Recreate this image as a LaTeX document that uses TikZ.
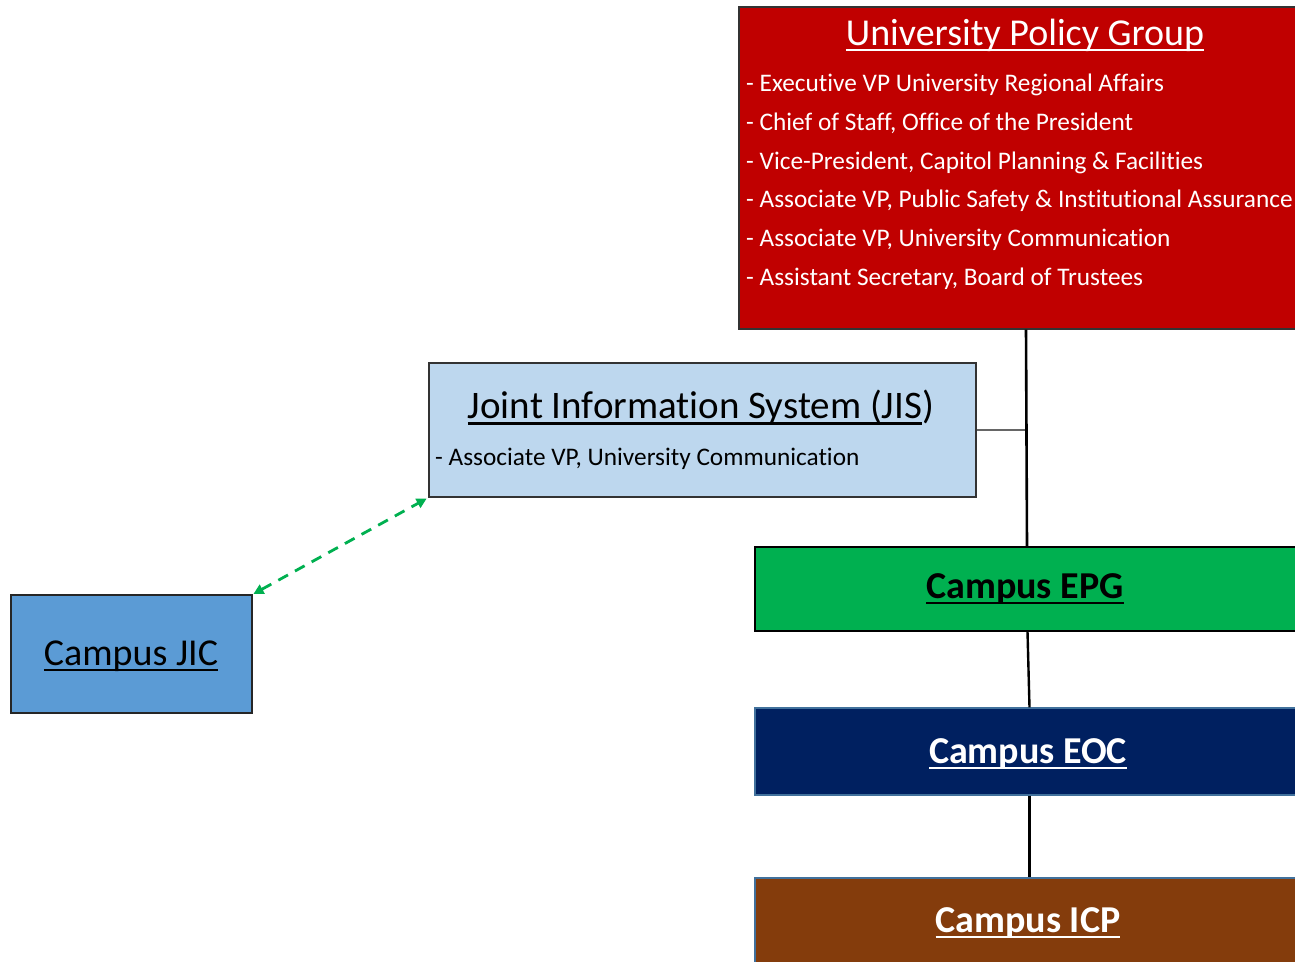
\documentclass[tikz,border=0pt]{standalone}
\usepackage{fontspec}
\setmainfont[RawFeature=-liga]{Carlito}
\usetikzlibrary{arrows.meta}
\definecolor{upgred}{HTML}{C00000}
\definecolor{jisblue}{HTML}{BDD7EE}
\definecolor{jicblue}{HTML}{5B9BD5}
\definecolor{epggreen}{HTML}{00B050}
\definecolor{eocnavy}{HTML}{002060}
\definecolor{icpbrown}{HTML}{843C0C}
\definecolor{edgeblue}{HTML}{41719C}
% underlined text with a rule set just below the baseline
\newcommand\ultext[1]{\setbox0\hbox{#1}\rlap{\rule[-0.17em]{\wd0}{0.065em}}\box0}
\newcommand\titlesize{\fontsize{38}{42}\selectfont}
\newcommand\bigtitlesize{\fontsize{39}{43}\selectfont}
\newcommand\bodysize{\fontsize{25.3}{30}\selectfont}
\begin{document}
\begin{tikzpicture}[x=1pt,y=-1pt,
  panel/.style={draw=#1, line width=1.2pt, inner sep=0pt, rectangle},
  label/.style={inner sep=0pt, anchor=base},
  item/.style={inner sep=0pt, anchor=base west, text=white, font=\bodysize},
  link/.style={draw=black, line width=2.6pt},
  peer/.style={draw=epggreen, line width=2.8pt, dash pattern=on 11pt off 8pt,
    {Triangle[length=10pt,width=10pt]}-{Triangle[length=10pt,width=10pt]}, shorten <=1pt, shorten >=2pt}]
\useasboundingbox (0,0) rectangle (1295,961);
\clip (0,0) rectangle (1295,961);

% University Policy Group
\node[panel=black!80, fill=upgred, minimum width=572pt, minimum height=322pt] (upg) at (1025,168) {};
\node[label, text=white, font=\titlesize] (upgtitle) at (1025,45) {\ultext{University Policy Group}};
\node[item] (upg1) at (746,91) {- Executive VP University Regional Affairs};
\node[item] (upg2) at (746,130) {- Chief of Staff, Office of the President};
\node[item] (upg3) at (746,169) {- Vice-President, Capitol Planning \& Facilities};
\node[item] (upg4) at (746,207) {- Associate VP, Public Safety \& Institutional Assurance};
\node[item] (upg5) at (746,246) {- Associate VP, University Communication};
\node[item] (upg6) at (746,285) {- Assistant Secretary, Board of Trustees};

% Joint Information System
\node[panel=black!80, fill=jisblue, minimum width=547pt, minimum height=134pt] (jis) at (702.5,430) {};
\node[label, font=\bigtitlesize] (jistitle) at (701,418) {\ultext{Joint Information System (JIS})};
\node[item, text=black] (jis1) at (435,465) {- Associate VP, University Communication};

% Campus JIC
\node[panel=black!85, fill=jicblue, minimum width=241pt, minimum height=118pt] (jic) at (131.5,654) {};
\node[label, font=\titlesize] (jictext) at (131,665) {\ultext{Campus JIC}};

% Campus EPG / EOC / ICP
\node[panel=black, fill=epggreen, minimum width=545pt, minimum height=84pt] (epg) at (1027.5,589) {};
\node[label, font=\titlesize\bfseries] (epgtext) at (1025,598) {\ultext{Campus EPG}};
\node[panel=edgeblue, fill=eocnavy, minimum width=545pt, minimum height=87pt] (eoc) at (1027.5,751.5) {};
\node[label, font=\titlesize\bfseries, text=white] (eoctext) at (1028,763) {\ultext{Campus EOC}};
\node[panel=edgeblue, fill=icpbrown, minimum width=545pt, minimum height=120pt] (icp) at (1027.5,938) {};
\node[label, font=\titlesize\bfseries, text=white] (icptext) at (1028,932) {\ultext{Campus ICP}};

% connectors
\draw[link] ([xshift=1pt]upg.south) -- ([xshift=-0.5pt]epg.north);
\draw[draw=black!60, line width=1.4pt] (jis.east) -- (jis.east -| upg.south);
\draw[link, line width=2.4pt] (epg.south) -- ([xshift=2pt]eoc.north);
\draw[link, line width=2.4pt] ([xshift=2pt]eoc.south) -- ([xshift=2pt]icp.north);
\draw[peer] (jic.north east) -- (jis.south west);
\end{tikzpicture}
\end{document}
